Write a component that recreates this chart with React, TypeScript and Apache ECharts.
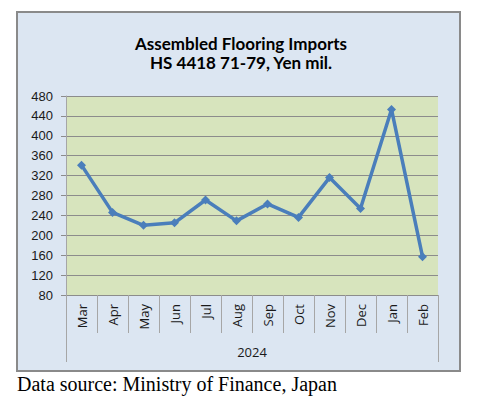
import React, { useEffect, useRef } from "react";
import * as echarts from "echarts";

const months = ["Mar", "Apr", "May", "Jun", "Jul", "Aug", "Sep", "Oct", "Nov", "Dec", "Jan", "Feb"];
const imports = [341, 246, 220, 225, 271, 229, 263, 236, 316, 254, 453, 157];
const yearLabels = ["2024"];
const titleLines = ["Assembled Flooring Imports", "HS 4418 71-79, Yen mil."];
const sourceNote = "Data source: Ministry of Finance, Japan";

export default function App() {
  const ref = useRef<HTMLDivElement>(null);
  useEffect(() => {
    if (!ref.current) return;
    const chart = echarts.init(ref.current, undefined, { renderer: "svg" });
    chart.setOption({
      animation: false,
      backgroundColor: "#ffffff",
      title: {
        text: titleLines.join("\n"),
        left: 236,
        textAlign: "center",
        top: 29,
        textStyle: {
          fontFamily: "Lato",
          fontWeight: "bold",
          fontSize: 17,
          lineHeight: 19,
          color: "#000000",
        },
      },
      graphic: [
        {
          type: "rect",
          z: -10,
          shape: { x: 17, y: 12, width: 443, height: 359 },
          style: { fill: "#dce6f2", stroke: "#8a8a8a", lineWidth: 2 },
          silent: true,
        },
        {
          type: "text",
          left: 17,
          top: 374,
          style: {
            text: sourceNote,
            font: '20px "Liberation Serif"',
            fill: "#000000",
          },
        },
      ],
      grid: {
        left: 66,
        top: 96,
        width: 372,
        height: 199,
        show: true,
        backgroundColor: "#d7e4bd",
        borderWidth: 0,
      },
      xAxis: [
        {
          type: "category",
          data: months,
          position: "bottom",
          boundaryGap: true,
          axisLine: { show: true, lineStyle: { color: "#8c8c8c", width: 1 } },
          axisTick: {
            show: true,
            interval: 0,
            length: 38,
            lineStyle: { color: "#a6a6a6" },
          },
          axisLabel: {
            interval: 0,
            rotate: 90,
            margin: 9,
            fontFamily: "Open Sans",
            fontSize: 13,
            color: "#1a1a1a",
          },
        },
        {
          type: "category",
          data: yearLabels,
          position: "bottom",
          boundaryGap: true,
          axisLine: { show: false },
          axisTick: {
            show: true,
            interval: 0,
            length: 67,
            lineStyle: { color: "#a6a6a6" },
          },
          axisLabel: {
            margin: 50,
            fontFamily: "Open Sans",
            fontSize: 13,
            color: "#1a1a1a",
          },
        },
      ],
      yAxis: {
        type: "value",
        min: 80,
        max: 480,
        interval: 40,
        axisLine: { show: true, lineStyle: { color: "#a6a6a6" } },
        axisTick: { show: true, length: 5, lineStyle: { color: "#8c8c8c" } },
        axisLabel: {
          margin: 13,
          fontFamily: "Liberation Sans",
          fontSize: 13,
          color: "#1a1a1a",
        },
        splitLine: { show: true, lineStyle: { color: "#8c8c8c", width: 1 } },
      },
      series: [
        {
          type: "line",
          xAxisIndex: 0,
          data: imports,
          lineStyle: { color: "#4a7ebb", width: 3.5 },
          itemStyle: { color: "#4a7ebb" },
          symbol: "diamond",
          symbolSize: 9,
          showSymbol: true,
        },
      ],
    });
    return () => chart.dispose();
  }, []);
  return (
    <div
      ref={ref}
      style={{ position: "absolute", left: 0, top: 0, width: 479, height: 399 }}
    />
  );
}
